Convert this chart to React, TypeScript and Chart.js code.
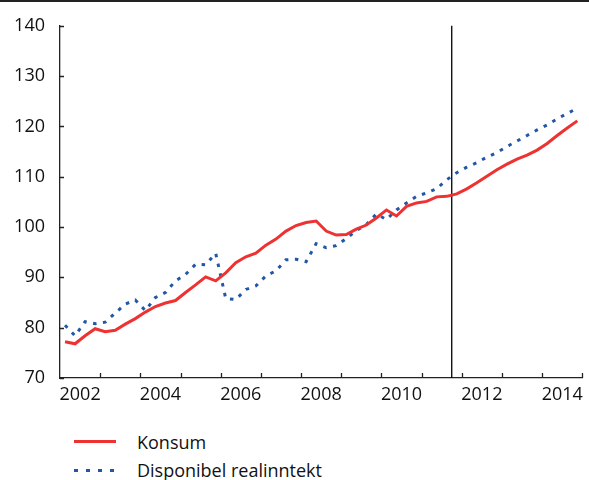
import React, { useEffect, useRef } from 'react';
import { Chart, registerables } from 'chart.js';

Chart.register(...registerables);

// ---- Data (quarterly, 2002K1 – 2014K4) ----
const startYear = 2002;
const endYear = 2015;
const forecastStart = 2011.75;

const konsum = [
  77.2, 76.8, 78.4, 79.8, 79.2, 79.5, 80.7, 81.8, 83.1, 84.2,
  84.9, 85.4, 87.0, 88.5, 90.1, 89.3, 90.9, 92.9, 94.1, 94.8,
  96.4, 97.6, 99.2, 100.3, 100.9, 101.2, 99.2, 98.4, 98.5, 99.6,
  100.4, 101.8, 103.4, 102.2, 104.1, 104.8, 105.1, 106.0, 106.1, 106.6,
  107.6, 108.8, 110.1, 111.4, 112.5, 113.5, 114.3, 115.3, 116.6, 118.2,
  119.7, 121.1,
];

const disponibelRealinntekt = [
  80.5, 78.4, 81.2, 80.8, 81.1, 82.9, 84.7, 85.5, 83.4, 86.0,
  87.0, 89.3, 90.6, 92.6, 92.5, 94.8, 85.8, 85.6, 87.6, 88.3,
  90.3, 91.3, 93.5, 93.6, 93.1, 96.7, 95.9, 96.3, 97.7, 99.3,
  100.5, 102.6, 101.5, 103.4, 104.8, 106.1, 106.8, 107.6, 109.4, 110.8,
  111.9, 112.8, 113.9, 114.8, 116.0, 117.1, 118.2, 119.3, 120.3, 121.5,
  122.6, 123.6,
];

const xTickLabels = ['2002', '2004', '2006', '2008', '2010', '2012', '2014'];
const yMin = 70;
const yMax = 140;
const yStep = 10;

const seriesLabels = ['Konsum', 'Disponibel realinntekt'];

// ---- Styles ----
const RED = '#ee3232';
const BLUE = '#2257a6';
const AXIS = '#222222';
const TEXT = '#111111';
const FONT = "'Open Sans', 'Noto Sans', sans-serif";

const quarterX = (i: number) => startYear + (i + 0.5) / 4;

const marksPlugin = {
  id: 'marks',
  beforeDatasetsDraw(chart: any) {
    const { ctx, chartArea } = chart;
    const xs = chart.scales.x;
    const px = xs.getPixelForValue(forecastStart);
    ctx.save();
    ctx.strokeStyle = '#000';
    ctx.lineWidth = 1.3;
    ctx.beginPath();
    ctx.moveTo(px, chartArea.top);
    ctx.lineTo(px, chartArea.bottom);
    ctx.stroke();
    ctx.restore();
  },
  afterDraw(chart: any) {
    const { ctx } = chart;
    const xs = chart.scales.x;
    const ys = chart.scales.y;
    ctx.save();
    ctx.strokeStyle = AXIS;
    ctx.lineWidth = 1.3;
    ctx.beginPath();
    for (let v = Math.ceil(xs.min) + 1; v <= xs.max; v++) {
      const p = Math.round(xs.getPixelForValue(v)) + 0.5;
      ctx.moveTo(p, ys.bottom);
      ctx.lineTo(p, ys.bottom - 5);
    }
    ys.ticks.forEach((t: any) => {
      const p = Math.round(ys.getPixelForValue(t.value)) + 0.5;
      ctx.moveTo(xs.left, p);
      ctx.lineTo(xs.left + 4, p);
    });
    ctx.stroke();
    ctx.restore();
  },
};

export default function App() {
  const ref = useRef<HTMLCanvasElement>(null);

  useEffect(() => {
    const canvas = ref.current;
    if (!canvas) return;
    const font = { family: FONT, size: 18 };
    const years: number[] = [];
    for (let y = startYear; y < endYear; y++) years.push(y);

    const chart = new Chart(canvas, {
      type: 'line',
      data: {
        datasets: [
          {
            label: seriesLabels[0],
            data: konsum.map((v, i) => ({ x: quarterX(i), y: v })),
            borderColor: RED,
            backgroundColor: RED,
            borderWidth: 3,
            pointRadius: 0,
            tension: 0,
            fill: false,
          },
          {
            label: seriesLabels[1],
            data: disponibelRealinntekt.map((v, i) => ({ x: quarterX(i), y: v })),
            borderColor: BLUE,
            backgroundColor: BLUE,
            borderWidth: 3,
            borderDash: [3.5, 6.5],
            pointRadius: 0,
            tension: 0,
            fill: false,
          },
        ],
      },
      options: {
        responsive: false,
        animation: false,
        layout: { padding: { top: 21, right: 5, left: 0, bottom: 0 } },
        plugins: { legend: { display: false }, tooltip: { enabled: false } },
        scales: {
          x: {
            type: 'linear',
            min: startYear,
            max: endYear,
            afterBuildTicks: (s: any) => {
              s.ticks = years.map((y) => ({ value: y + 0.5 }));
            },
            afterFit: (s: any) => {
              s.height = 32;
            },
            ticks: {
              autoSkip: false,
              maxRotation: 0,
              padding: 6,
              color: TEXT,
              font,
              callback: (v: any) => {
                const lbl = String(Math.floor(Number(v)));
                return xTickLabels.includes(lbl) ? lbl : '';
              },
            },
            grid: { display: true, drawOnChartArea: false, drawTicks: false },
            border: { display: true, color: AXIS, width: 1.3 },
          },
          y: {
            min: yMin,
            max: yMax,
            afterFit: (s: any) => {
              s.width = 60;
            },
            ticks: { stepSize: yStep, padding: 15, color: TEXT, font },
            grid: { display: true, drawOnChartArea: false, drawTicks: false },
            border: { display: true, color: AXIS, width: 1.3 },
          },
        },
      } as any,
      plugins: [marksPlugin],
    });
    return () => chart.destroy();
  }, []);

  const textStyle: React.CSSProperties = {
    position: 'absolute',
    left: 137,
    fontFamily: FONT,
    fontSize: 18,
    lineHeight: '18px',
    color: TEXT,
    whiteSpace: 'nowrap',
  };

  return (
    <div style={{ position: 'absolute', left: 0, top: 0, width: 589, height: 480, background: '#fff', overflow: 'hidden' }}>
      <canvas ref={ref} width={589} height={410} style={{ position: 'absolute', left: 0, top: 0 }} />
      <div style={{ position: 'absolute', left: 0, top: 0, width: 589, height: 2, background: AXIS }} />
      <div style={{ position: 'absolute', left: 74, top: 440, width: 42, height: 3, background: RED }} />
      <div style={textStyle as any}>
        <span style={{ position: 'absolute', top: 433, left: 0 }}>{seriesLabels[0]}</span>
      </div>
      <div
        style={{
          position: 'absolute',
          left: 74,
          top: 469,
          width: 40,
          height: 3,
          background: `repeating-linear-gradient(to right, ${BLUE} 0px, ${BLUE} 4px, transparent 4px, transparent 12px)`,
        }}
      />
      <div style={textStyle as any}>
        <span style={{ position: 'absolute', top: 461, left: 0 }}>{seriesLabels[1]}</span>
      </div>
    </div>
  );
}
